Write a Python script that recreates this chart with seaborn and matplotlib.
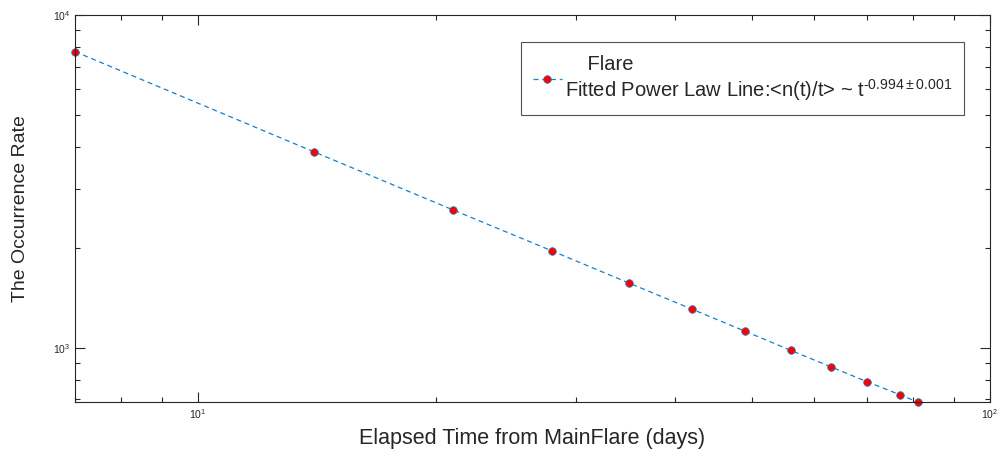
import numpy as np
import pandas as pd
import matplotlib
matplotlib.use("Agg")
import matplotlib.pyplot as plt
import matplotlib.ticker as mticker
import seaborn as sns

# elapsed time (days) and occurrence rate
days = [7, 14, 21, 28, 35, 42, 49, 56, 63, 70, 77, 81]
rate = [7762, 3886, 2597, 1956, 1567, 1309, 1124, 984, 877, 791, 723, 688]

legend_label = ("    Flare\n"
                "Fitted Power Law Line:<n(t)/t> ~ t$^{\\text{-0.994}\\pm\\text{0.001}}$")

sns.set_style("ticks")
plt.rcParams['font.family'] = ['Liberation Sans', 'DejaVu Sans']
plt.rcParams['mathtext.fontset'] = 'custom'
plt.rcParams['mathtext.rm'] = 'Liberation Sans'
plt.rcParams['mathtext.it'] = 'Liberation Sans'

df = pd.DataFrame({"days": days, "rate": rate})

fig = plt.figure(figsize=(9.98, 4.5), dpi=100)
ax = fig.add_axes([0.0752, 0.1067, 0.9168, 0.86])

sns.lineplot(data=df, x="days", y="rate", ax=ax, color="#1380CC",
             linestyle=(0, (4, 3)), linewidth=0.9, marker="o", markersize=5.5,
             markerfacecolor="red", markeredgecolor="#1380CC",
             markeredgewidth=0.5, label=legend_label, sort=True,
             estimator=None, clip_on=False)

ax.set_xscale("log")
ax.set_yscale("log")
ax.set_xlim(7, 100)
ax.set_ylim(688, 10000)

ax.xaxis.set_minor_formatter(mticker.NullFormatter())
ax.yaxis.set_minor_formatter(mticker.NullFormatter())

for s in ax.spines.values():
    s.set_color("#262626")
    s.set_linewidth(0.8)
ax.tick_params(which="both", direction="in", top=True, right=True,
               colors="#262626", labelsize=7.5, width=0.8)
ax.tick_params(which="major", length=7)
ax.tick_params(which="minor", length=3.5)

ax.set_xlabel("Elapsed Time from MainFlare (days)", fontsize=15.5, color="#262626")
ax.set_ylabel("The Occurrence Rate", fontsize=14, color="#262626")
ax.yaxis.set_label_coords(-0.05, 0.5)
ax.xaxis.set_label_coords(0.5, -0.068)

leg = ax.legend(loc="upper right", bbox_to_anchor=(0.9716, 0.929), fontsize=14.5,
                frameon=True, fancybox=False, edgecolor="#262626",
                handlelength=1.4, handletextpad=0.15, borderpad=0.6,
                borderaxespad=0)
leg.get_frame().set_linewidth(0.8)

fig.savefig("out.png", dpi=100)
